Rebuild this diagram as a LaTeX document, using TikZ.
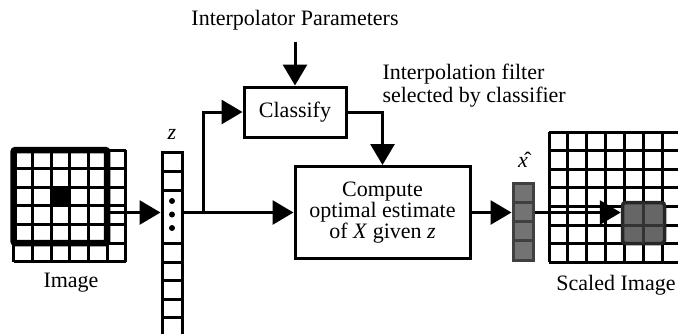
\documentclass[tikz,border=0pt]{standalone}
\usepackage{fontspec}
\setmainfont{Liberation Serif}
\usepackage{tikz}
\usetikzlibrary{arrows.meta}

\begin{document}
\begin{tikzpicture}[x=1pt, y=-1pt, every node/.style={font=\fontsize{22}{22}\selectfont}]

\tikzset{box/.style = {shape=rectangle,draw,line width=3pt,align=center,inner sep=0pt}}
\tikzset{edge/.style = {-{Triangle[length=21pt,width=24pt]},line width=3pt}}
\tikzset{grid/.style = {line width=3pt}}
\tikzset{vec/.style = {shape=rectangle,draw,line width=3pt,minimum width=20pt,inner sep=0pt}}
\useasboundingbox (0,0) rectangle (678,333);

% image
\foreach \i in {0,...,6} \draw[grid] (13.6+18.7*\i,150) -- (13.6+18.7*\i,261.6);
\foreach \j in {0,...,6} \draw[grid] (13.6,150+18.6*\j) -- (125.8,150+18.6*\j);
\fill (51,187.2) rectangle (69.7,205.8);
\draw[line width=6.5pt, rounded corners=2pt] (13.6,150) rectangle (107.1,243);
\coordinate (imgout) at (107.1,212.5);
\node (img) at (71,283) {Image};

% vector z
\node[vec, minimum height=184pt] (zvec) at (172,244) {};
\foreach \y in {171,190,243,262,280,299,317} \draw[grid] (162,\y) -- (182,\y);
\foreach \y in {201,214.5,228} \fill (172,\y) circle (3pt);
\node (zlab) at (172,134) {\textit{z}};

% boxes
\node (par) at (295,20) {Interpolator Parameters};
\node[box, minimum width=102pt, minimum height=50pt] (cls) at (295,112) {Classify};
\node[box, minimum width=175pt, minimum height=92pt] (est) at (382.5,212.5)
  {Compute\\[-1pt]optimal estimate\\[-1pt]of \textit{X} given \textit{z}};
\node[anchor=north west, align=left] (note) at (379,60)
  {Interpolation filter\\[1pt]selected by classifier};
\coordinate (br) at (203,212.5);

% vector x hat
\node[vec, draw=black!75, fill=black!55, minimum height=77pt] (xhat) at (523,221.5) {};
\foreach \y in {202.25,221.5,240.75} \draw[grid, black!75] (513,\y) -- (533,\y);
\node (xlab) at (523,160) {\^{\textit{x}}};

% scaled image
\foreach \i in {0,...,7} \draw[grid] (549+18.9*\i,132) -- (549+18.9*\i,261.8);
\foreach \j in {0,...,7} \draw[grid] (549,132+18.6*\j) -- (690,132+18.6*\j);
\node[shape=rectangle, draw=black!85, fill=black!60, line width=3.5pt, rounded corners=3pt,
  minimum width=42pt, minimum height=41pt] (blk) at (643.5,223) {};
\draw[grid, black!80] (643.5,203) -- (643.5,243);
\draw[grid, black!80] (623,225) -- (664,225);
\node (simg) at (616,285) {Scaled Image};

%edges
\draw[edge] (imgout) -- (imgout -| zvec.west);
\draw[edge] (est.west -| zvec.east) -- (est.west);
\draw[edge] (br) |- (cls.west);
\draw[edge] ([yshift=-8pt]par.south) -- (cls.north);
\draw[edge] (cls.east) -| (est.north);
\draw[edge] (est.east) -- (est.east -| xhat.west);
\draw[edge] (est.east -| xhat.east) -- (est.east -| blk.west);
\end{tikzpicture}
\end{document}
